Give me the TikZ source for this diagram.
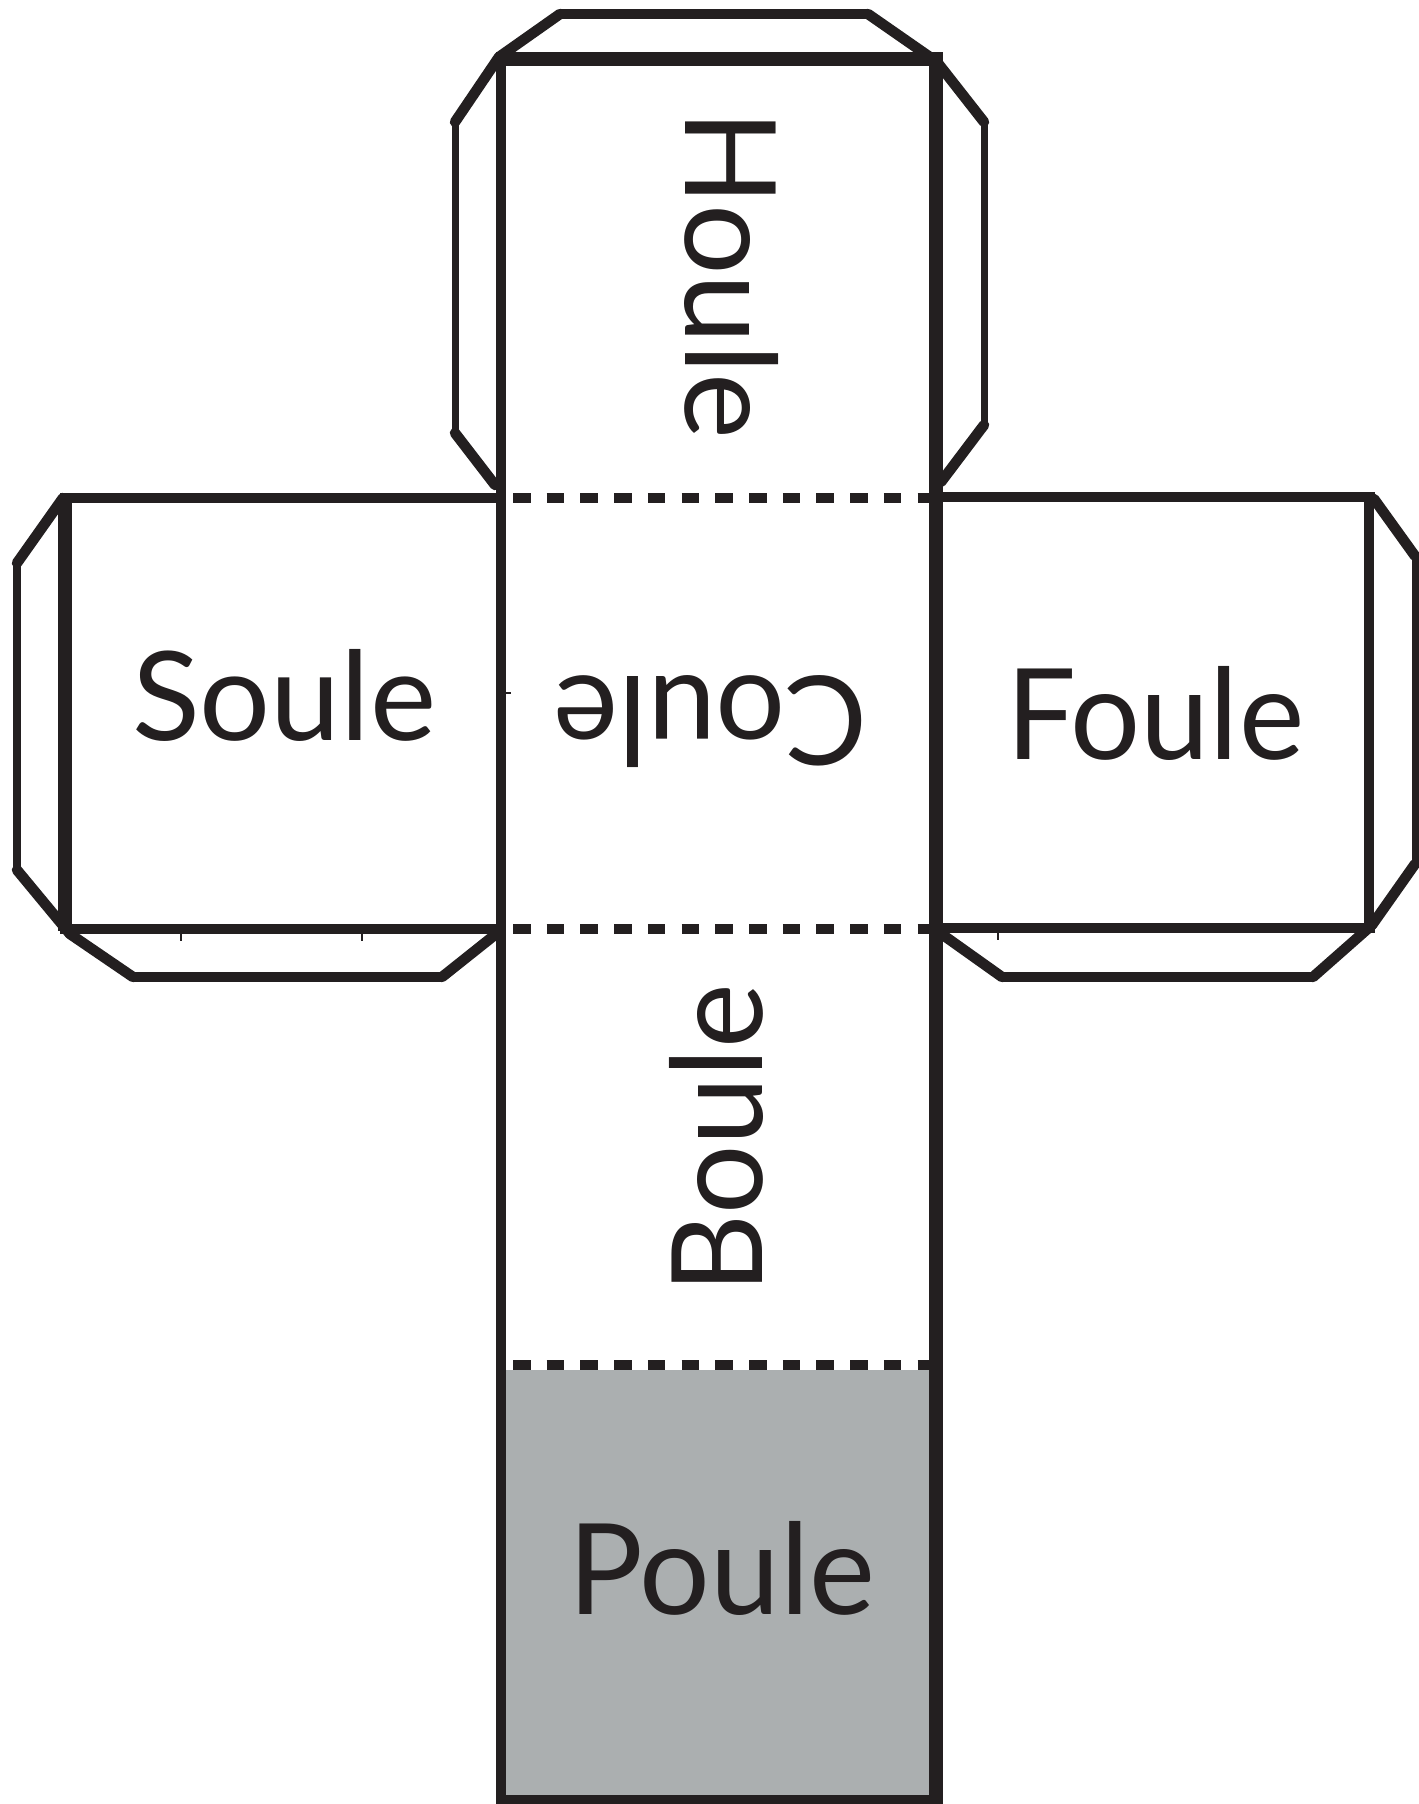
\documentclass[tikz,border=0pt]{standalone}
\usepackage{graphicx}
\usepackage{fontspec}
\setmainfont{Lato}
\definecolor{ink}{HTML}{231F20}
\definecolor{panelgrey}{HTML}{ABAFB0}
\tikzset{
  x=0.01cm,y=-0.01cm,
  heavy/.style={draw=ink,line width=0.105cm,line cap=butt,line join=miter},
  heavier/.style={draw=ink,line width=0.135cm,line cap=butt,line join=miter},
  tab/.style={draw=ink,line width=0.07cm,line join=bevel,line cap=butt},
  flap/.style={draw=ink,line width=0.095cm,line join=bevel,line cap=butt},
  slant/.style={draw=ink,line width=0.105cm,line cap=round},
  fold/.style={draw=ink,line width=0.095cm,dash pattern=on 0.175cm off 0.162cm},
  word/.style={inner sep=0pt,outer sep=0pt,anchor=base west,text=ink},
}
\begin{document}
\begin{tikzpicture}
\useasboundingbox (0,0) rectangle (1418,1804);
\fill[white] (0,0) rectangle (1418,1804);
% grey panel
\fill[panelgrey] (501,1370) rectangle (936,1800);
% tabs of the top face
\draw[flap] (560,14) -- (868,14);
\draw[slant] (499,57) -- (560,14);
\draw[slant] (868,14) -- (937,62);
\draw[tab] (455,122) -- (455,433);
\draw[slant] (499,57) -- (455,122);
\draw[slant] (455,433) -- (495,485);
\draw[tab] (984,122) -- (984,425);
\draw[slant] (937,62) -- (984,122);
\draw[slant] (984,425) -- (941,482);
% tabs of the left face
\draw[tab,line width=0.08cm] (17,563) -- (17,870);
\draw[slant] (63,498) -- (17,563);
\draw[slant] (17,870) -- (70,934);
\draw[flap] (133,977) -- (442,977);
\draw[slant] (70,934) -- (133,977);
\draw[slant] (442,977) -- (496,934);
% tabs of the right face
\draw[tab] (1415,556) -- (1415,864);
\draw[slant] (1374,499) -- (1415,556);
\draw[slant] (1415,864) -- (1372,925);
\draw[flap] (1002,977) -- (1313,977);
\draw[slant] (943,935) -- (1002,977);
\draw[slant] (1313,977) -- (1372,925);
% main column
\draw[heavy] (501,59) -- (501,1804);
\draw[heavier] (936,59) -- (936,1804);
\draw[draw=ink,line width=0.14cm] (496,59) -- (943,59);
\draw[draw=ink,line width=0.095cm] (496,1800) -- (943,1800);
% side faces
\draw[heavy] (60,498) -- (501,498);
\draw[heavy] (60,929) -- (501,929);
\draw[draw=ink,line width=0.13cm] (65,498) -- (65,931);
\draw[heavy] (936,497) -- (1375,497);
\draw[heavy] (936,928) -- (1375,928);
\draw[heavy] (1369,497) -- (1369,928);
% fold lines
\draw[fold] (513,498) -- (936,498);
\draw[fold] (513,929) -- (936,929);
\draw[fold] (513,1365) -- (936,1365);
% small specks
\draw[ink,line width=0.02cm] (505,693) -- (511,693);
\draw[ink,line width=0.02cm] (181,934) -- (181,941);
\draw[ink,line width=0.02cm] (362,934) -- (362,941);
\draw[ink,line width=0.02cm] (998,933) -- (998,940);
% words
\node[word,rotate=-90] (houle) at (685,111) {\resizebox{3.28cm}{0.93cm}{Houle}};
\node[word] (soule) at (132,740) {\resizebox{3.04cm}{0.91cm}{Soule}};
\node[word,rotate=180] (coule) at (867,676) {\resizebox{3.13cm}{0.91cm}{Coule}};
\node[word] (foule) at (1006,759) {\resizebox{2.98cm}{0.93cm}{Foule}};
\node[word,rotate=90] (boule) at (762,1293) {\resizebox{3.09cm}{0.93cm}{Boule}};
\node[word] (poule) at (568,1614) {\resizebox{3.07cm}{0.93cm}{Poule}};
\end{tikzpicture}
\end{document}
